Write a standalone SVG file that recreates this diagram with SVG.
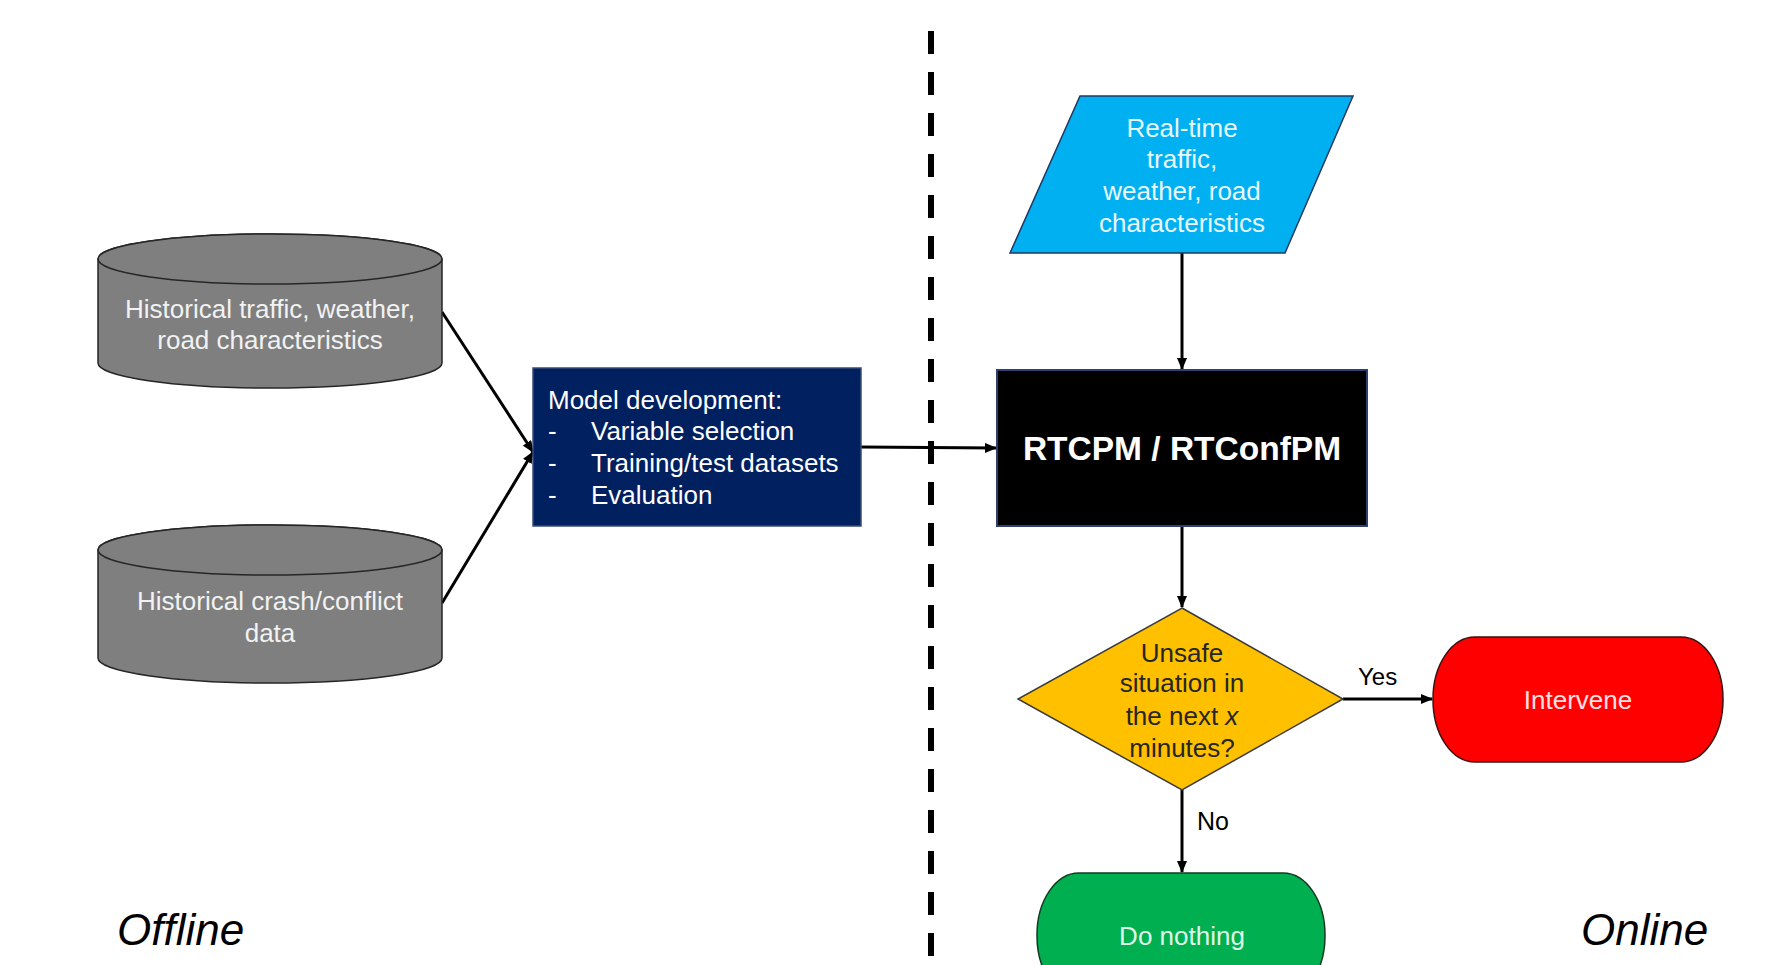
<svg xmlns="http://www.w3.org/2000/svg" width="1770" height="965" viewBox="0 0 1770 965">
  <defs>
    <marker id="ah" markerUnits="userSpaceOnUse" markerWidth="12" markerHeight="10" refX="11" refY="5" orient="auto">
      <path d="M0,0 L12,5 L0,10 Z" fill="#000"/>
    </marker>
    <style>
      text { font-family: "Liberation Sans", Arial, sans-serif; }
      .t25 { font-size: 26px; }
      .conn { stroke: #000; stroke-width: 3; fill: none; marker-end: url(#ah); }
      .cyl { fill: #7f7f7f; stroke: #262626; stroke-width: 1.5; }
      .cyltxt { fill: #f2f2f2; font-size: 26px; text-anchor: middle; }
      .side { font-size: 44px; font-style: italic; fill: #000; }
    </style>
  </defs>
  <rect width="1770" height="965" fill="#fff"/>

  <line x1="931" y1="31" x2="931" y2="965" stroke="#000" stroke-width="6" stroke-dasharray="23 18"/>

  <g id="connectors">
    <line class="conn" x1="442" y1="312" x2="533" y2="452"/>
    <line class="conn" x1="442" y1="603" x2="533" y2="452"/>
    <line class="conn" x1="861" y1="447" x2="996" y2="448"/>
    <line class="conn" x1="1182" y1="253" x2="1182" y2="369"/>
    <line class="conn" x1="1182" y1="526" x2="1182" y2="607"/>
    <line class="conn" x1="1343" y1="699" x2="1432" y2="699"/>
    <line class="conn" x1="1182" y1="790" x2="1182" y2="872"/>
    <text x="1358" y="685" font-size="24" fill="#000">Yes</text>
    <text x="1197" y="830" font-size="25" fill="#000">No</text>
  </g>

  <g id="hist-traffic">
    <path class="cyl" d="M98,259 A172,25 0 0 1 442,259 L442,363 A172,25 0 0 1 98,363 Z"/>
    <ellipse class="cyl" cx="270" cy="259" rx="172" ry="25"/>
    <text class="cyltxt" x="270" y="318">Historical traffic, weather,</text>
    <text class="cyltxt" x="270" y="349">road characteristics</text>
  </g>

  <g id="hist-crash">
    <path class="cyl" d="M98,550 A172,25 0 0 1 442,550 L442,658 A172,25 0 0 1 98,658 Z"/>
    <ellipse class="cyl" cx="270" cy="550" rx="172" ry="25"/>
    <text class="cyltxt" x="270" y="610">Historical crash/conflict</text>
    <text class="cyltxt" x="270" y="642">data</text>
  </g>

  <g id="model-dev">
    <rect x="533" y="368" width="328" height="158" fill="#002060" stroke="#3b4b75" stroke-width="1.5"/>
    <g class="t25" fill="#fff">
      <text x="548" y="409">Model development:</text>
      <text x="548" y="440">-</text><text x="591" y="440">Variable selection</text>
      <text x="548" y="472">-</text><text x="591" y="472">Training/test datasets</text>
      <text x="548" y="504">-</text><text x="591" y="504">Evaluation</text>
    </g>
  </g>

  <g id="realtime">
    <polygon points="1080,96 1353,96 1285,253 1010,253" fill="#00b0f0" stroke="#1f3864" stroke-width="1.5"/>
    <g class="t25" fill="#e8f7ff" text-anchor="middle">
      <text x="1182" y="137">Real-time</text>
      <text x="1182" y="168">traffic,</text>
      <text x="1182" y="200">weather, road</text>
      <text x="1182" y="232">characteristics</text>
    </g>
  </g>

  <g id="rtcpm">
    <rect x="997" y="370" width="370" height="156" fill="#000" stroke="#2f3f6f" stroke-width="2"/>
    <text x="1182" y="460" font-size="33.5" font-weight="bold" fill="#fff" text-anchor="middle">RTCPM / RTConfPM</text>
  </g>

  <g id="decision">
    <polygon points="1182,608 1343,699 1182,790 1018,699" fill="#ffc000" stroke="#3a3a3a" stroke-width="1.5"/>
    <g class="t25" fill="#262626" text-anchor="middle">
      <text x="1182" y="662">Unsafe</text>
      <text x="1182" y="692">situation in</text>
      <text x="1182" y="725">the next <tspan font-style="italic">x</tspan></text>
      <text x="1182" y="757">minutes?</text>
    </g>
  </g>

  <g id="intervene">
    <rect x="1433" y="637" width="290" height="125" rx="42" ry="62" fill="#ff0000" stroke="#3a1010" stroke-width="1.5"/>
    <text class="t25" x="1578" y="709" fill="#ffe0e0" text-anchor="middle">Intervene</text>
  </g>

  <g id="do-nothing">
    <rect x="1037" y="873" width="288" height="125" rx="42" ry="62" fill="#00b050" stroke="#103a20" stroke-width="1.5"/>
    <text class="t25" x="1182" y="945" fill="#dff7e6" text-anchor="middle">Do nothing</text>
  </g>

  <g id="labels">
    <text class="side" x="117" y="945">Offline</text>
    <text class="side" x="1581" y="945">Online</text>
  </g>
</svg>
